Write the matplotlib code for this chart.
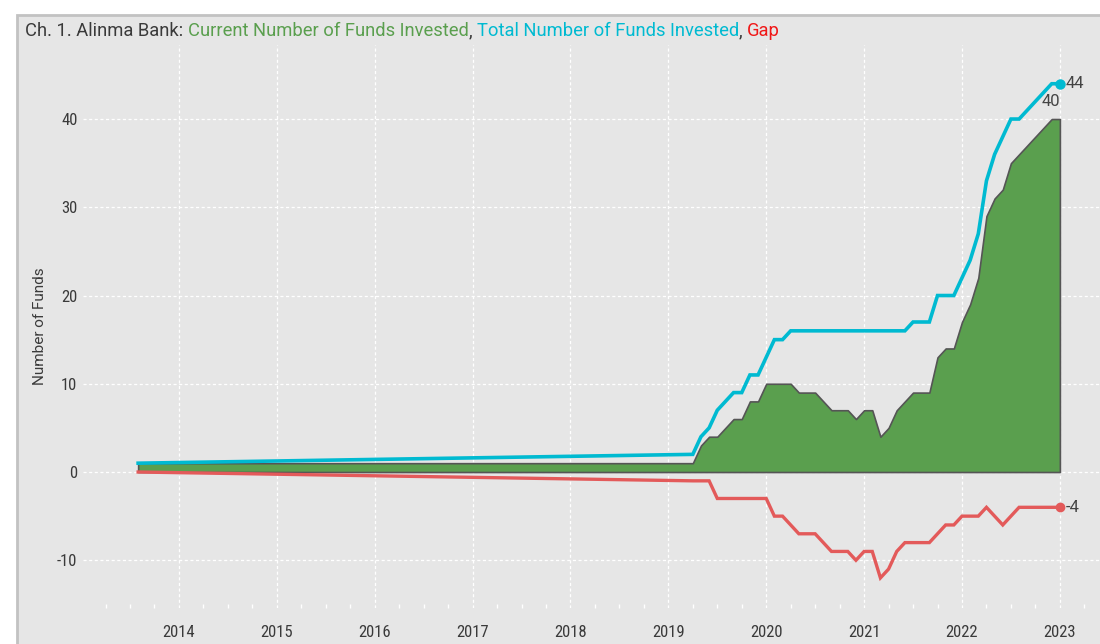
#!/usr/bin/env python3
"""Ch. 1. Alinma Bank: current vs total number of funds invested, and the gap."""

import matplotlib
matplotlib.use("Agg")
import matplotlib.pyplot as plt
from matplotlib import font_manager
from matplotlib.patches import Rectangle
import numpy as np

# month-end dates (YYYY-MM) and values
months = [
    "2013-07",
    "2019-03", "2019-04", "2019-05", "2019-06", "2019-07", "2019-08",
    "2019-09", "2019-10", "2019-11", "2019-12",
    "2020-01", "2020-02", "2020-03", "2020-04", "2020-05", "2020-06",
    "2020-07", "2020-08", "2020-09", "2020-10", "2020-11", "2020-12",
    "2021-01", "2021-02", "2021-03", "2021-04", "2021-05", "2021-06",
    "2021-07", "2021-08", "2021-09", "2021-10", "2021-11", "2021-12",
    "2022-01", "2022-02", "2022-03", "2022-04", "2022-05", "2022-06",
    "2022-07", "2022-08", "2022-09", "2022-10", "2022-11", "2022-12",
]
current_funds = [
    1,
    1, 3, 4, 4, 5, 6, 6, 8, 8, 10,
    10, 10, 10, 9, 9, 9, 8, 7, 7, 7, 6, 7,
    7, 4, 5, 7, 8, 9, 9, 9, 13, 14, 14, 17,
    19, 22, 29, 31, 32, 35, 36, 37, 38, 39, 40, 40,
]
total_funds = [
    1,
    2, 4, 5, 7, 8, 9, 9, 11, 11, 13,
    15, 15, 16, 16, 16, 16, 16, 16, 16, 16, 16, 16,
    16, 16, 16, 16, 16, 17, 17, 17, 20, 20, 20, 22,
    24, 27, 33, 36, 38, 40, 40, 41, 42, 43, 44, 44,
]
gap = [
    0,
    -1, -1, -1, -3, -3, -3, -3, -3, -3, -3,
    -5, -5, -6, -7, -7, -7, -8, -9, -9, -9, -10, -9,
    -9, -12, -11, -9, -8, -8, -8, -8, -7, -6, -6, -5,
    -5, -5, -4, -5, -6, -5, -4, -4, -4, -4, -4, -4,
]
year_ticks = list(range(2014, 2024))
y_ticks = [-10, 0, 10, 20, 30, 40]

GREEN = "#5a9f4e"
CYAN = "#00bad1"
RED = "#e35a5a"
GAP_TEXT = "#f01818"
DARK = "#3a3a3a"
PANEL = "#e6e6e6"


def pick_font(names):
    installed = {f.name for f in font_manager.fontManager.ttflist}
    for n in names:
        if n in installed:
            return n
    return "DejaVu Sans"


def to_year(m):
    y, mo = m.split("-")
    return int(y) + int(mo) / 12.0


font = pick_font(["Liberation Sans Narrow", "Roboto Condensed",
                  "DejaVu Sans Condensed", "Roboto"])
wide_font = pick_font(["Roboto", "Lato", "DejaVu Sans"])
plt.rcParams["font.family"] = [font, "DejaVu Sans"]
plt.rcParams["axes.unicode_minus"] = False

x = np.array([to_year(m) for m in months])

fig = plt.figure(figsize=(11, 6.44), dpi=100)
fig.patch.set_facecolor("white")
fig.patches.append(Rectangle((17 / 1100, -0.05), 1.1, 1.05 - 15 / 644,
                             transform=fig.transFigure, facecolor=PANEL,
                             edgecolor="#c2c2c2", linewidth=2, zorder=-10))

ax = fig.add_axes([83 / 1100, 1 - 608 / 644, 1 - 83 / 1100, (608 - 45) / 644])
ax.set_facecolor("none")
for s in ax.spines.values():
    s.set_visible(False)

ax.fill_between(x, 0, current_funds, facecolor=GREEN, edgecolor="#555555",
                linewidth=1.2, zorder=2)
ax.plot(x, total_funds, color=CYAN, linewidth=2.6, zorder=4,
        solid_joinstyle="miter")
ax.plot(x, gap, color=RED, linewidth=2.4, zorder=3, solid_joinstyle="miter")
ax.plot(x[-1], total_funds[-1], "o", color=CYAN, markersize=6.5, zorder=5)
ax.plot(x[-1], gap[-1], "o", color=RED, markersize=6, zorder=5)

ax.annotate(f"{total_funds[-1]}", (x[-1], total_funds[-1]),
            xytext=(4, 0), textcoords="offset points", va="center",
            ha="left", fontsize=12, color="#444444", family=wide_font)
ax.annotate(f"{current_funds[-1]}", (x[-1], current_funds[-1]),
            xytext=(0, 7), textcoords="offset points", va="bottom",
            ha="right", fontsize=12, color="#444444", family=wide_font)
ax.annotate(f"{gap[-1]}", (x[-1], gap[-1]),
            xytext=(4, 0), textcoords="offset points", va="center",
            ha="left", fontsize=12, color="#444444", family=wide_font)

ax.set_xlim(2013.02, 2023.41)
ax.set_ylim(-15.41, 48.39)
ax.set_xticks(year_ticks)
ax.set_xticklabels([str(t) for t in year_ticks])
ax.set_xticks(np.arange(2013.25, 2023.4, 0.25), minor=True)
ax.set_yticks(y_ticks)

ax.grid(True, which="major", color="white", linestyle=(0, (2.5, 2)),
        linewidth=0.9, zorder=0)
ax.set_axisbelow(True)
ax.tick_params(axis="x", which="major", direction="in", length=0, pad=12,
               labelsize=12, labelcolor=DARK)
ax.tick_params(axis="x", which="minor", direction="in", length=3,
               width=1, color="white")
ax.tick_params(axis="y", length=0, pad=4, labelsize=12, labelcolor=DARK)

ax.set_ylabel("Number of Funds", fontsize=11, color=DARK, labelpad=7,
              family=wide_font)

# multi-coloured title
parts = [("Ch. 1. Alinma Bank: ", DARK), ("Current Number of Funds Invested", GREEN),
         (", ", DARK), ("Total Number of Funds Invested", CYAN), (", ", DARK),
         ("Gap", GAP_TEXT)]
renderer = fig.canvas.get_renderer()
xpos = 25 / 1100
ypos = 1 - 31 / 644
for txt, col in parts:
    t = fig.text(xpos, ypos, txt, color=col, fontsize=13.2, va="center",
                 ha="left", family=wide_font)
    bb = t.get_window_extent(renderer=renderer)
    xpos += bb.width / fig.bbox.width

fig.savefig("out.png", dpi=100, facecolor="white")
